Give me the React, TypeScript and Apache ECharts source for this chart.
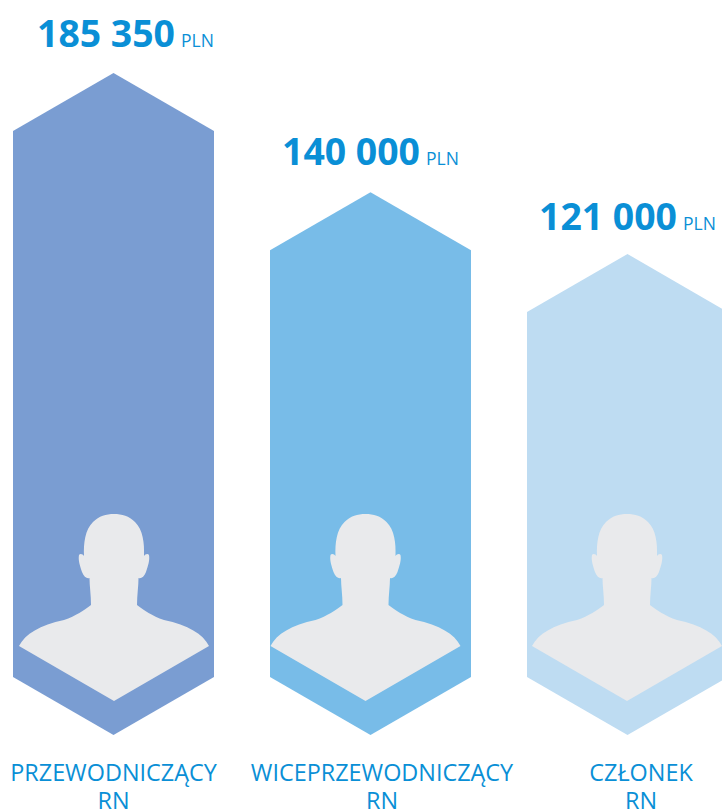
import React, { useEffect, useRef } from "react";
import * as echarts from "echarts";

const categories = ["PRZEWODNICZĄCY\nRN", "WICEPRZEWODNICZĄCY\nRN", "CZŁONEK\nRN"];
const amounts = [185350, 140000, 121000];
const amountLabels = ["185 350", "140 000", "121 000"];
const unit = "PLN";
const barColors = ["#7A9DD2", "#78BCE8", "#BEDCF2"];
const textColor = "#0A8FD6";
const personColor = "#E9EAEC";

const HALF = 100.5;
const ROOF = 58;
const FONT = "'Open Sans', sans-serif";
const labelShift = [0, 11.5, 13.5];
const personShift = [0.5, -5, -0.5];
const amountRight = [61.5, 49.5, 49.5];
const amountLift = [0, -1, 1.5];

// Silhouette, drawn around (0,0) = the bust's lower tip
const personPath =
  "M0 0 L-95 -55 C-89 -67 -74 -76 -50 -81 C-38 -85 -30 -91 -23 -96 C-23 -106 -24.5 -115 -24.5 -123 C-27 -122 -30 -124 -32 -129 C-34 -135 -36 -141 -35 -146 C-34 -148 -31 -147 -30 -145 C-30.5 -158 -29 -171 -21 -179 C-15 -185 -8 -187 0 -187 C8 -187 15 -185 21 -179 C29 -171 30.5 -158 30 -145 C31 -147 34 -148 35 -146 C36 -141 34 -135 32 -129 C30 -124 27 -122 24.5 -123 C24.5 -115 23 -106 23 -96 C30 -91 38 -85 50 -81 C74 -76 89 -67 95 -55 Z";

function renderItem(params: any, api: any) {
  const i = api.value(0);
  const [cx, top] = api.coord([i, api.value(1)]);
  const bottom = params.coordSys.y + params.coordSys.height;
  const children: any[] = [
    {
      type: "polygon",
      shape: {
        points: [
          [cx, top],
          [cx + HALF, top + ROOF],
          [cx + HALF, bottom - ROOF],
          [cx, bottom],
          [cx - HALF, bottom - ROOF],
          [cx - HALF, top + ROOF],
        ],
      },
      style: { fill: barColors[i] },
    },
    {
      type: "path",
      shape: { pathData: personPath, layout: "center", x: cx + personShift[i] - 95, y: bottom - 34 - 187, width: 190, height: 187 },
      style: { fill: personColor },
    },
    {
      type: "text",
      style: {
        text: amountLabels[i],
        x: cx + amountRight[i],
        y: top - 22 + amountLift[i],
        align: "right",
        verticalAlign: "bottom",
        fill: textColor,
        font: `bold 37.4px ${FONT}`,
      },
    },
    {
      type: "text",
      style: {
        text: unit,
        x: cx + amountRight[i] + 6,
        y: top - 24 + amountLift[i],
        align: "left",
        verticalAlign: "bottom",
        fill: textColor,
        font: `17.5px ${FONT}`,
      },
    },
    {
      type: "text",
      style: {
        text: categories[i],
        x: cx + labelShift[i],
        y: bottom + 23,
        align: "center",
        verticalAlign: "top",
        fill: textColor,
        font: `23.4px ${FONT}`,
        lineHeight: 28,
      },
    },
  ];
  return { type: "group", children };
}

export default function App() {
  const ref = useRef<HTMLDivElement>(null);
  useEffect(() => {
    document.body.style.margin = "0";
    const chart = echarts.init(ref.current!, undefined, { renderer: "svg" });
    chart.setOption({
      animation: false,
      grid: { left: -15, top: 73, width: 771, height: 662, outerBoundsMode: "none" },
      xAxis: { type: "category", data: categories, show: false },
      yAxis: { type: "log", logBase: 10, min: 39000, max: 185350, show: false },
      series: [
        {
          type: "custom",
          clip: false,
          renderItem,
          data: amounts.map((v, i) => [i, v]),
          encode: { x: 0, y: 1 },
        },
      ],
    });
    return () => chart.dispose();
  }, []);
  return <div ref={ref} style={{ width: 722, height: 809, overflow: "hidden" }} />;
}
